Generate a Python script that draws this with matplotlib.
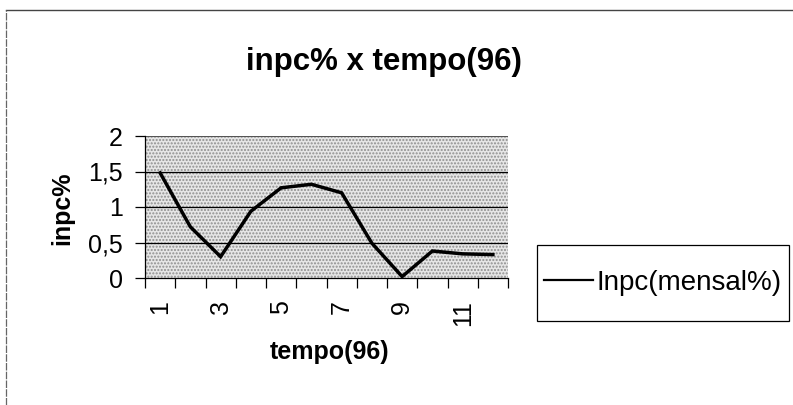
import matplotlib
matplotlib.use("Agg")
import matplotlib.pyplot as plt
from matplotlib.patches import Rectangle
from matplotlib.lines import Line2D
from matplotlib.ticker import FixedLocator, NullFormatter

plt.rcParams['font.family'] = ['Liberation Sans', 'DejaVu Sans']

# INPC monthly inflation, 1996
months = list(range(1, 13))
inpc = [1.48, 0.72, 0.30, 0.94, 1.27, 1.32, 1.20, 0.49, 0.02, 0.38, 0.34, 0.33]
month_labels = ['1', '3', '5', '7', '9', '11']
label_months = [1, 3, 5, 7, 9, 11]
y_ticks = [0, 0.5, 1, 1.5, 2]
y_tick_labels = ['0', '0,5', '1', '1,5', '2']

W, H = 793, 405
fig = plt.figure(figsize=(W / 100, H / 100), dpi=100)
fig.patch.set_facecolor('white')

# plot area in pixels: left 145, right 508, top 136, bottom 278
L, R, T, B = 145, 508, 136, 278
ax = fig.add_axes([L / W, 1 - B / H, (R - L) / W, (B - T) / H])

# stippled grey plot area
ax.patch.set_facecolor('#e6e6e6')
ax.add_patch(Rectangle((0, 0), 1, 1, transform=ax.transAxes,
                       facecolor='none', edgecolor='#8e8e8e', linewidth=0,
                       hatch='.....', zorder=0.5))

for yv in [0.5, 1, 1.5]:
    ax.axhline(yv, color='black', linewidth=0.9, zorder=1)
ax.axhline(2, color='#555555', linewidth=0.8, zorder=1)

ax.plot(months, inpc, color='black', linewidth=2.5, solid_joinstyle='miter',
        zorder=3, label='Inpc(mensal%)')

ax.set_xlim(0.5, 12.5)
ax.set_ylim(0, 2)

# category boundary ticks, labels at every other category centre
ax.xaxis.set_major_locator(FixedLocator([m + 0.5 for m in range(0, 13)]))
ax.xaxis.set_major_formatter(NullFormatter())
ax.xaxis.set_minor_locator(FixedLocator(label_months))
ax.set_xticklabels(month_labels, minor=True, rotation=90, fontsize=18)
ax.tick_params(axis='x', which='major', direction='out', length=7, width=0.9)
ax.tick_params(axis='x', which='minor', length=0, pad=16)

ax.set_yticks(y_ticks)
ax.set_yticklabels(y_tick_labels, fontsize=18)
ax.tick_params(axis='y', direction='out', length=7, width=0.9, pad=9)

for side in ['top', 'right']:
    ax.spines[side].set_visible(False)
for side in ['left', 'bottom']:
    ax.spines[side].set_linewidth(0.9)
    ax.spines[side].set_color('black')

# titles
fig.text(384 / W, 1 - 62 / H, 'inpc% x tempo(96)', fontsize=22.5,
         fontweight='bold', ha='center', va='center')
fig.text(330 / W, 1 - 352 / H, 'tempo(96)', fontsize=18,
         fontweight='bold', ha='center', va='center')
fig.text(62 / W, 1 - 208 / H, 'inpc%', fontsize=18, fontweight='bold',
         rotation=90, ha='center', va='center')

# legend frame and entry
lx0, lx1, ly0, ly1 = 537, 789, 245, 321
fig.patches.append(Rectangle((lx0 / W, 1 - ly1 / H), (lx1 - lx0) / W,
                             (ly1 - ly0) / H, transform=fig.transFigure,
                             facecolor='white', edgecolor='black',
                             linewidth=0.9))
fig.legend(handles=[Line2D([], [], color='black', linewidth=1.6)],
           labels=['Inpc(mensal%)'], loc='center',
           bbox_to_anchor=((lx0 + lx1) / 2 / W, 1 - (ly0 + ly1) / 2 / H),
           frameon=False, fontsize=20, handlelength=1.75, handletextpad=0.12,
           borderpad=0, borderaxespad=0)

# outer chart border (top and left edges)
fig.add_artist(Line2D([6 / W, 1], [1 - 10 / H, 1 - 10 / H],
                      transform=fig.transFigure, color='#444444', linewidth=1))
fig.add_artist(Line2D([6 / W, 6 / W], [0, 1 - 10 / H],
                      transform=fig.transFigure, color='#666666', linewidth=0.9,
                      linestyle=(0, (6, 1))))

fig.savefig('out.png', dpi=100)
